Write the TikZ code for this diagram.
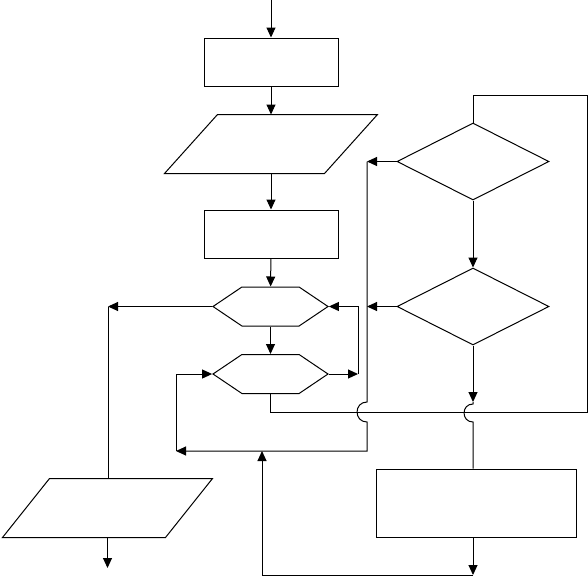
\documentclass[tikz,border=0pt]{standalone}
\usetikzlibrary{arrows.meta,shapes.geometric,shapes.symbols,calc}
\begin{document}
\begin{tikzpicture}[x=1pt,y=-1pt, line width=1pt,
 arr/.style={-{Triangle[length=10pt,width=9pt]}},
 proc/.style={draw, rectangle, inner sep=0pt},
 iobox/.style={rectangle, inner sep=0pt, minimum height=58pt},
 hex/.style={draw, signal, signal to=east and west, signal pointer angle=68, inner sep=0pt, minimum width=115pt, minimum height=39pt},
 dec/.style={draw, diamond, inner sep=0pt, minimum width=152pt, minimum height=77pt},
 jump/.style={out=180,in=180,looseness=1.7}]
\useasboundingbox (0,0) rectangle (588,576);
% nodes
\coordinate (start) at (271,0);
\node[proc, minimum width=134pt, minimum height=48pt] (b1) at (271,62) {};
\node[iobox, minimum width=212pt] (p1) at (271,144) {};
\draw (p1.south west) -- ($(p1.north west)+(53,0)$) -- (p1.north east) -- ($(p1.south east)+(-53,0)$) -- cycle;
\node[proc, minimum width=134pt, minimum height=48pt] (b2) at (271,234) {};
\node[hex] (h1) at (270.5,306.5) {};
\node[hex] (h2) at (270.5,374) {};
\node[dec] (d1) at (473,161.5) {};
\node[dec] (d2) at (473,306.5) {};
\node[proc, minimum width=200pt, minimum height=68pt] (b3) at (476,503) {};
\node[iobox, minimum width=209pt] (p2) at (107.5,508) {};
\draw (p2.south west) -- ($(p2.north west)+(47,0)$) -- (p2.north east) -- ($(p2.south east)+(-47,0)$) -- cycle;
% main column
\draw[arr] (start) -- (b1);
\draw[arr] (b1) -- (p1);
\draw[arr] (p1) -- (b2);
\draw[arr] (b2) -- (h1);
\draw[arr] (h1) -- (h2);
\coordinate (r1) at (358,374);
\draw[arr] (h2.east) -- (r1);
\draw[arr] (r1) |- (h1.east);
\coordinate (l1) at (108,306.5);
\draw[arr] (h1.west) -- (l1);
\draw (l1) -- (l1 |- p2.north);
\coordinate (e1) at (107.5,568);
\draw[arr] (p2.south) -- (e1);
% right column back lines
\coordinate (v1) at (367,161.5);
\coordinate (v2) at (367,306.5);
\coordinate (j1a) at (367,402);
\coordinate (j1b) at (367,422);
\coordinate (v3) at (367,451);
\coordinate (l2) at (176,451);
\draw[arr] (d1.west) -- (v1);
\draw[arr] (d2.west) -- (v2);
\draw[arr] (v1) -- (j1a) to[jump] (j1b) -- (v3) -- (l2);
\draw[arr] (l2) |- (h2.west);
% loop
\coordinate (q1) at (270.5,412);
\coordinate (q2) at (587,412);
\coordinate (q3) at (587,95);
\draw (h2.south) -- (q1) -- (q2) -- (q3) -| (d1.north);
\draw[arr] (d1) -- (d2);
\coordinate (a1) at (473,402);
\coordinate (j2a) at (473,404);
\coordinate (j2b) at (473,422);
\draw[arr] (d2.south) -- (a1);
\draw (a1) -- (j2a) to[jump] (j2b) -- (j2b |- b3.north);
\coordinate (a2) at (473,575);
\coordinate (a3) at (262,575);
\coordinate (a4) at (262,451);
\draw[arr] (a2 |- b3.south) -- (a2);
\draw[arr] (a2) -- (a3) -- (a4);
\end{tikzpicture}
\end{document}
